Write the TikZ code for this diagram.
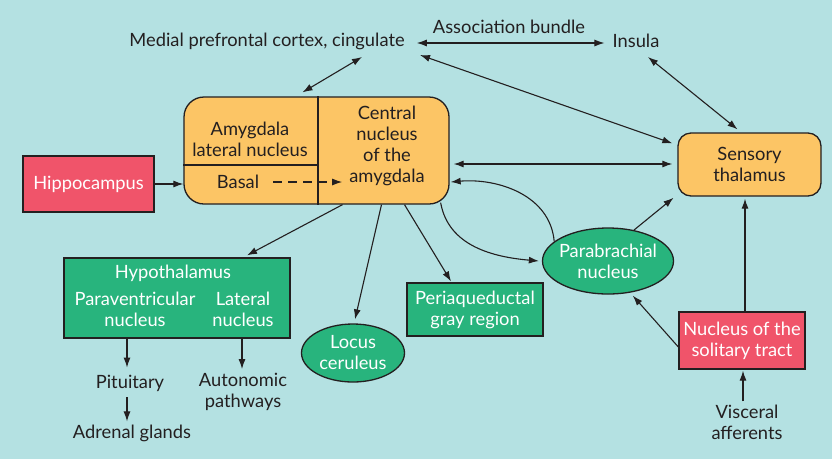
\documentclass[tikz,border=0pt]{standalone}
\usepackage{fontspec}
\setmainfont{Lato}
\usetikzlibrary{arrows.meta,shapes.geometric}
\definecolor{bgteal}{HTML}{B4E1E2}
\definecolor{amyorange}{HTML}{FCC565}
\definecolor{nucgreen}{HTML}{28B47D}
\definecolor{hipred}{HTML}{F0546A}
\definecolor{inkgray}{HTML}{231F20}

\begin{document}
\begin{tikzpicture}[x=1pt,y=-1pt,font={\fontsize{18.3}{21}\selectfont},
  every node/.style={text=inkgray,align=center,inner sep=0pt},
  box/.style={draw=inkgray,line width=1.3pt},
  orangebox/.style={box,fill=amyorange,rounded corners=13pt},
  greenbox/.style={box,fill=nucgreen,text=white},
  redbox/.style={box,fill=hipred,text=white},
  greenoval/.style={box,ellipse,fill=nucgreen,text=white},
  arr/.style={draw=inkgray,line width=1.1pt,-{Latex[length=10pt,width=7pt]}},
  dblarr/.style={arr,{Latex[length=10pt,width=7pt]}-{Latex[length=10pt,width=7pt]}}]
\fill[bgteal] (0,0) rectangle (832,459);

\node (mpc) at (267,41) {Medial prefrontal cortex, cingulate};
\node (assoc) at (509,27) {Association bundle};
\node (insula) at (636,41) {Insula};

\node[orangebox,rounded corners=20pt,minimum width=265pt,minimum height=107pt] (amyg) at (316.5,150.5) {};
\draw[box] ([xshift=1.5pt]amyg.north) -- ([xshift=1.5pt]amyg.south);
\draw[box] ([yshift=-14.5pt]amyg.west) -- ([xshift=1.5pt,yshift=-14.5pt]amyg.center);
\node (lat) at (250,139) {Amygdala\\lateral nucleus};
\node (basal) at (238,182) {Basal};
\node (cent) at (387,146) {Central\\nucleus\\of the\\amygdala};

\node[redbox,minimum width=131pt,minimum height=56pt] (hippo) at (88.5,184) {Hippocampus};
\node[orangebox,minimum width=143pt,minimum height=63pt] (thal) at (749.5,164.5) {Sensory\\thalamus};
\node[greenoval,inner xsep=-6pt,minimum width=131pt,minimum height=66pt] (para) at (608,261) {Parabrachial\\nucleus};
\node[greenoval,minimum width=103pt,minimum height=58pt] (locus) at (353,353) {Locus\\ceruleus};
\node[greenbox,minimum width=136pt,minimum height=53pt] (pag) at (475,309.5) {Periaqueductal\\gray region};

\node[greenbox,minimum width=226pt,minimum height=80pt] (hypo) at (177,298) {};
\node[text=white] (hyptitle) at (173,273) {Hypothalamus};
\node[text=white] (pvn) at (135,309) {Paraventricular\\nucleus};
\node[text=white] (latn) at (243,309) {Lateral\\nucleus};
\node (pit) at (130,383) {Pituitary};
\node (adr) at (132,433) {Adrenal glands};
\node (auto) at (243,392) {Autonomic\\pathways};

\node[redbox,minimum width=126pt,minimum height=57pt] (nts) at (742,340.5) {Nucleus of the\\solitary tract};
\node (visc) at (747,422) {Visceral\\afferents};

\draw[dblarr,shorten <=12pt,shorten >=8pt] ([yshift=-2pt]mpc.east) -- ([yshift=-2pt]mpc.east -| insula.west);
\draw[dblarr] ([xshift=95pt,yshift=-16pt]mpc.center) -- ([xshift=-14pt,yshift=4pt]amyg.north);
\draw[dblarr] ([xshift=153pt,yshift=-14pt]mpc.center) -- ([xshift=-5pt,yshift=-11pt]thal.north west);
\draw[dblarr] ([xshift=12pt,yshift=-16pt]insula.center) -- ([xshift=-12pt,yshift=3pt]thal.north);
\draw[dblarr,shorten <=4pt,shorten >=5pt] ([yshift=-13.5pt]amyg.east) -- ([yshift=-13.5pt]amyg.east -| thal.west);
\draw[arr] (hippo.east) -- (hippo.east -| amyg.west);
\draw[arr,dashed,dash pattern=on 9pt off 6pt,shorten <=14pt,shorten >=7pt] (basal.east) -- (basal.east -| cent.west);

\draw[arr] ([xshift=26pt]amyg.south) -- ([xshift=70pt,yshift=2pt]hypo.north);
\draw[arr] ([xshift=65pt]amyg.south) -- ([xshift=2pt,yshift=4pt]locus.north);
\draw[arr] ([xshift=88pt]amyg.south) -- ([xshift=-24pt,yshift=1pt]pag.north);
\draw[arr] ([xshift=-9pt,yshift=2pt]amyg.south east) to[out=-80,in=175] ([xshift=-3pt]para.west);
\draw[arr] (para.160) to[out=95,in=5] ([xshift=1pt,yshift=-31.5pt]amyg.east);
\draw[arr,shorten >=5pt] (para.50) -- ([yshift=2pt]thal.south west);
\draw[arr,shorten >=4pt] ([yshift=-6.5pt]nts.west) -- (para.-55);
\draw[arr,shorten >=2pt] ([xshift=3pt]nts.north) -- ([xshift=3pt]nts.north |- thal.south);
\draw[arr,shorten <=3pt,shorten >=1pt] ([xshift=-4pt]visc.north) -- ([xshift=-4pt]visc.north |- nts.south);

\draw[arr,shorten >=7pt] ([xshift=-50pt]hypo.south) -- ([xshift=-50pt]hypo.south |- pit.north);
\draw[arr,shorten <=6pt,shorten >=3pt] ([xshift=-3pt]pit.south) -- ([xshift=-3pt]pit.south |- adr.north);
\draw[arr,shorten >=4pt] ([xshift=65pt]hypo.south) -- ([xshift=65pt]hypo.south |- auto.north);
\end{tikzpicture}
\end{document}
